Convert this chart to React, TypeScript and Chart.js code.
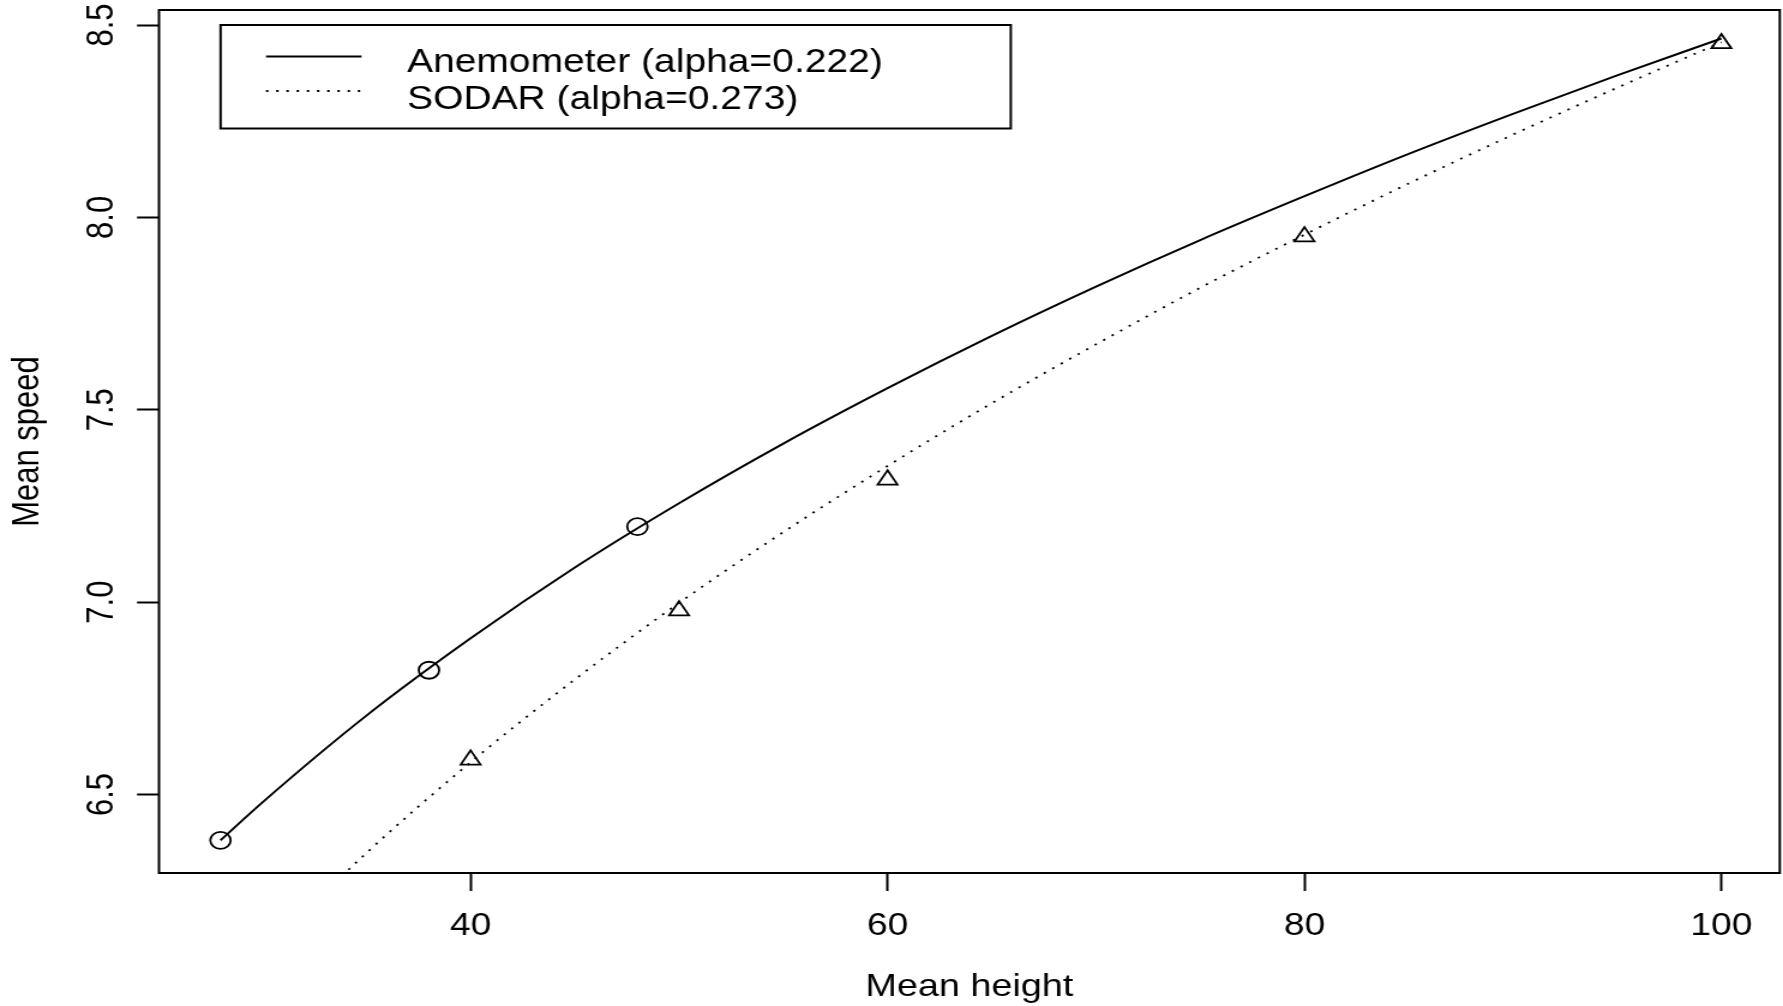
import React, { useEffect, useRef } from "react";
import { Chart, registerables } from "chart.js";

Chart.register(...registerables);

// ---- data ----
const anemCurveHeights = [28, 30, 35, 40, 45, 50, 55, 60, 65, 70, 75, 80, 85, 90, 95, 100];
const anemCurveSpeeds = [6.381, 6.479, 6.705, 6.906, 7.09, 7.257, 7.412, 7.556, 7.692, 7.82, 7.941, 8.055, 8.165, 8.269, 8.369, 8.465];
const sodarCurveHeights = [30, 35, 40, 45, 50, 55, 60, 65, 70, 75, 80, 85, 90, 95, 100];
const sodarCurveSpeeds = [6.086, 6.348, 6.584, 6.799, 6.998, 7.182, 7.354, 7.517, 7.67, 7.817, 7.955, 8.088, 8.215, 8.337, 8.455];
const anemObsHeights = [28, 38, 48];
const anemObsSpeeds = [6.381, 6.823, 7.196];
const sodarObsHeights = [40, 50, 60, 80, 100];
const sodarObsSpeeds = [6.59, 6.978, 7.318, 7.95, 8.452];
const xTicks = [40, 60, 80, 100];
const xTickLabels = ["40", "60", "80", "100"];
const yTicks = [6.5, 7.0, 7.5, 8.0, 8.5];
const yTickLabels = ["6.5", "7.0", "7.5", "8.0", "8.5"];
const legendLabels = ["Anemometer (alpha=0.222)", "SODAR (alpha=0.273)"];
const xTitle = "Mean height";
const yTitle = "Mean speed";

// ---- layout ----
const FULL_W = 1783;
const FULL_H = 1006;
const SX = 1.2; // horizontal stretch of the reference
const CW = Math.round(FULL_W / SX);
const STRETCH = FULL_W / CW;
const FAMILY = '"Liberation Sans", Arial, Helvetica, sans-serif';
const FS = 31;
const LEG_FS = 32.5;
const DOT = [2, 6.5];

const toXY = (xs: number[], ys: number[]) => xs.map((x, i) => ({ x, y: ys[i] }));

const rPlugin = {
  id: "rStyle",
  afterDraw(chart: any) {
    const { ctx, chartArea: a, scales } = chart;
    ctx.save();
    // full box
    ctx.strokeStyle = "#000";
    ctx.lineWidth = 2;
    ctx.setLineDash([]);
    ctx.strokeRect(a.left, a.top, a.right - a.left, a.bottom - a.top);
    // y tick labels, rotated like R (las=0)
    ctx.font = `${FS}px ${FAMILY}`;
    ctx.fillStyle = "#000";
    ctx.textAlign = "center";
    ctx.textBaseline = "middle";
    yTicks.forEach((v, i) => {
      const py = scales.y.getPixelForValue(v);
      ctx.save();
      ctx.translate(85.8, py);
      ctx.rotate(-Math.PI / 2);
      ctx.fillText(yTickLabels[i], 0, 0);
      ctx.restore();
    });
    // legend box
    const lx0 = 183.8, lx1 = 842.4, ly0 = 25, ly1 = 128.5;
    ctx.lineWidth = 2;
    ctx.strokeRect(lx0, ly0, lx1 - lx0, ly1 - ly0);
    const rows = [56.5, 91];
    const sx0 = 221.7, sx1 = 301.3;
    ctx.lineWidth = 2;
    ctx.beginPath();
    ctx.moveTo(sx0, rows[0]);
    ctx.lineTo(sx1, rows[0]);
    ctx.stroke();
    ctx.setLineDash(DOT);
    ctx.lineWidth = 1.8;
    ctx.beginPath();
    ctx.moveTo(sx0, rows[1]);
    ctx.lineTo(sx1, rows[1]);
    ctx.stroke();
    ctx.setLineDash([]);
    ctx.font = `${LEG_FS}px ${FAMILY}`;
    ctx.textAlign = "left";
    ctx.fillText(legendLabels[0], 339.2, 63.2);
    ctx.fillText(legendLabels[1], 339.2, 99.8);
    ctx.restore();
  },
};

export default function App() {
  const ref = useRef<HTMLCanvasElement | null>(null);

  useEffect(() => {
    document.body.style.margin = "0";
    const canvas = ref.current!;
    const chart = new Chart(canvas, {
      type: "line",
      data: {
        datasets: [
          {
            label: "Anemometer obs",
            data: toXY(anemObsHeights, anemObsSpeeds),
            showLine: false,
            pointStyle: "circle",
            pointRadius: 8.5,
            pointBorderWidth: 1.8,
            pointBackgroundColor: "rgba(0,0,0,0)",
            pointBorderColor: "#000",
            borderColor: "#000",
          },
          {
            label: "SODAR obs",
            data: toXY(sodarObsHeights, sodarObsSpeeds),
            showLine: false,
            pointStyle: "triangle",
            pointRadius: 9.5,
            pointBorderWidth: 1.8,
            pointBackgroundColor: "rgba(0,0,0,0)",
            pointBorderColor: "#000",
            borderColor: "#000",
          },
          {
            label: legendLabels[0],
            data: toXY(anemCurveHeights, anemCurveSpeeds),
            borderColor: "#000",
            borderWidth: 2,
            pointRadius: 0,
            cubicInterpolationMode: "monotone",
            fill: false,
          },
          {
            label: legendLabels[1],
            data: toXY(sodarCurveHeights, sodarCurveSpeeds),
            borderColor: "#000",
            borderWidth: 1.8,
            borderDash: DOT,
            pointRadius: 0,
            cubicInterpolationMode: "monotone",
            fill: false,
          },
        ],
      },
      options: {
        animation: false,
        responsive: false,
        devicePixelRatio: 1,
        events: [],
        layout: { autoPadding: false, padding: { top: 10, right: 2.7, bottom: 0, left: 0 } },
        plugins: { legend: { display: false }, tooltip: { enabled: false } },
        scales: {
          x: {
            type: "linear",
            min: 25.05,
            max: 102.8,
            afterBuildTicks: (s: any) => {
              s.ticks = xTicks.map((v) => ({ value: v }));
            },
            afterFit: (s: any) => {
              s.height = 133;
            },
            border: { display: false },
            grid: { drawOnChartArea: false, drawTicks: true, tickLength: 18, tickColor: "#000", tickWidth: 2 },
            ticks: {
              color: "#000",
              font: { family: FAMILY, size: FS },
              padding: 16.7,
              maxRotation: 0,
              minRotation: 0,
              autoSkip: false,
              callback: (v: any) => xTickLabels[xTicks.indexOf(Number(v))] ?? String(v),
            },
            title: {
              display: true,
              text: xTitle,
              color: "#000",
              font: { family: FAMILY, size: 31.5 },
              padding: { top: 0, bottom: 0.1 },
            },
          },
          y: {
            type: "linear",
            min: 6.296,
            max: 8.539,
            afterBuildTicks: (s: any) => {
              s.ticks = yTicks.map((v) => ({ value: v }));
            },
            afterFit: (s: any) => {
              s.width = 132.5;
            },
            border: { display: false },
            grid: { drawOnChartArea: false, drawTicks: true, tickLength: 18.3, tickColor: "#000", tickWidth: 2 },
            ticks: { display: false },
            title: {
              display: true,
              text: yTitle,
              color: "#000",
              font: { family: FAMILY, size: FS },
              padding: { top: 4.7, bottom: 0 },
            },
          },
        },
      },
      plugins: [rPlugin],
    } as any);
    return () => chart.destroy();
  }, []);

  return (
    <div
      style={{
        position: "fixed",
        left: 0,
        top: 0,
        width: FULL_W,
        height: FULL_H,
        overflow: "hidden",
        background: "#fff",
      }}
    >
      <canvas
        ref={ref}
        width={CW}
        height={FULL_H}
        style={{
          width: CW,
          height: FULL_H,
          display: "block",
          transform: `scaleX(${STRETCH})`,
          transformOrigin: "0 0",
        }}
      />
    </div>
  );
}
